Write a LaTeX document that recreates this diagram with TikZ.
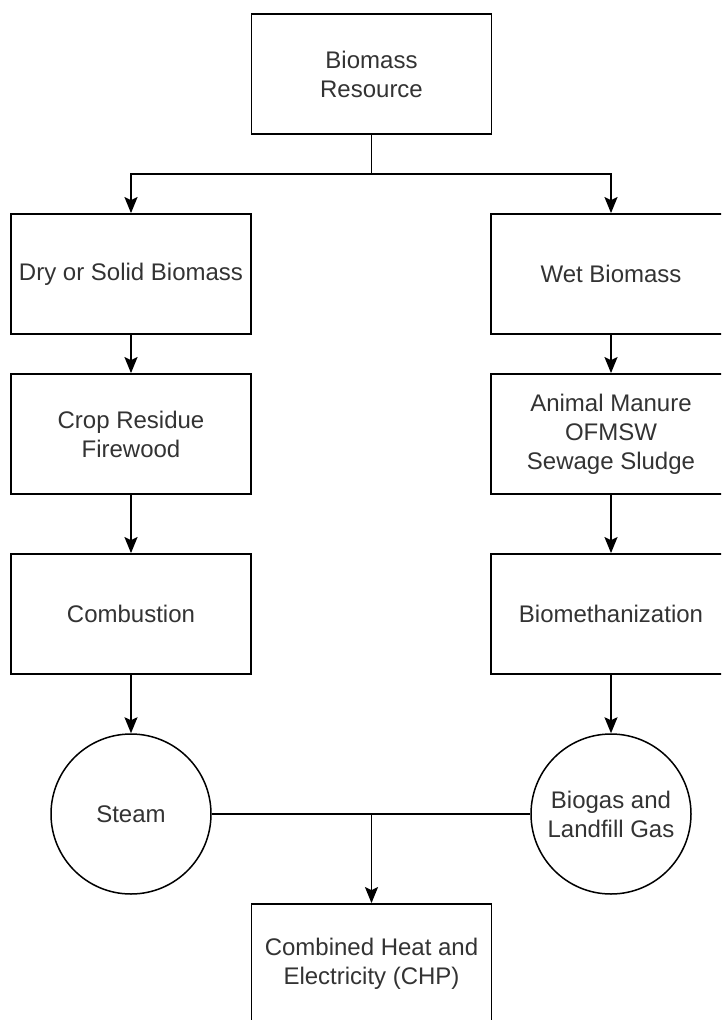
\documentclass[tikz,border=0pt]{standalone}
\usepackage{fontspec}
\setmainfont{Liberation Sans}
\usetikzlibrary{arrows.meta}
\definecolor{txt}{HTML}{333333}
\begin{document}
\begin{tikzpicture}[x=1pt,y=-1pt,
  every node/.style={font=\fontsize{24}{29}\selectfont, text=txt, align=center},
  box/.style={draw=black, line width=1.8pt, rectangle, minimum width=240pt, minimum height=120pt, inner sep=0pt},
  circ/.style={draw=black, line width=1.5pt, circle, minimum size=160pt, inner sep=0pt},
  conn/.style={draw=black, line width=1.8pt},
  arr/.style={conn, -{Stealth[length=16pt,width=13pt,inset=3pt]}}]
\clip (0,0) rectangle (721,1020);
\fill[white] (0,0) rectangle (721,1020);
\node[box] (res) at (371.5,74) {Biomass\\Resource};
\node[box] (dry) at (131,274) {Dry or Solid Biomass};
\node[box] (wet) at (611,274) {Wet Biomass};
\node[box] (crop) at (131,434) {Crop Residue\\Firewood};
\node[box] (anim) at (611,434) {Animal Manure\\OFMSW\\Sewage Sludge};
\node[box] (comb) at (131,614) {Combustion};
\node[box] (bmeth) at (611,614) {Biomethanization};
\node[circ] (steam) at (131,814) {Steam};
\node[circ] (biogas) at (611,814) {Biogas and\\Landfill Gas};
\node[box] (chp) at (371.5,964) {Combined Heat and\\Electricity (CHP)};
\coordinate (j1) at (371.5,174);
\coordinate (j2) at (371.5,814);
\draw[conn] (res) -- (j1);
\draw[arr] (j1) -| (dry.north);
\draw[arr] (j1) -| (wet.north);
\draw[arr] (dry) -- (crop);
\draw[arr] (crop) -- (comb);
\draw[arr] (comb) -- (steam);
\draw[arr] (wet) -- (anim);
\draw[arr] (anim) -- (bmeth);
\draw[arr] (bmeth) -- (biogas);
\draw[conn] (steam) -- (biogas);
\draw[arr] (j2) -- (chp);
\end{tikzpicture}
\end{document}
